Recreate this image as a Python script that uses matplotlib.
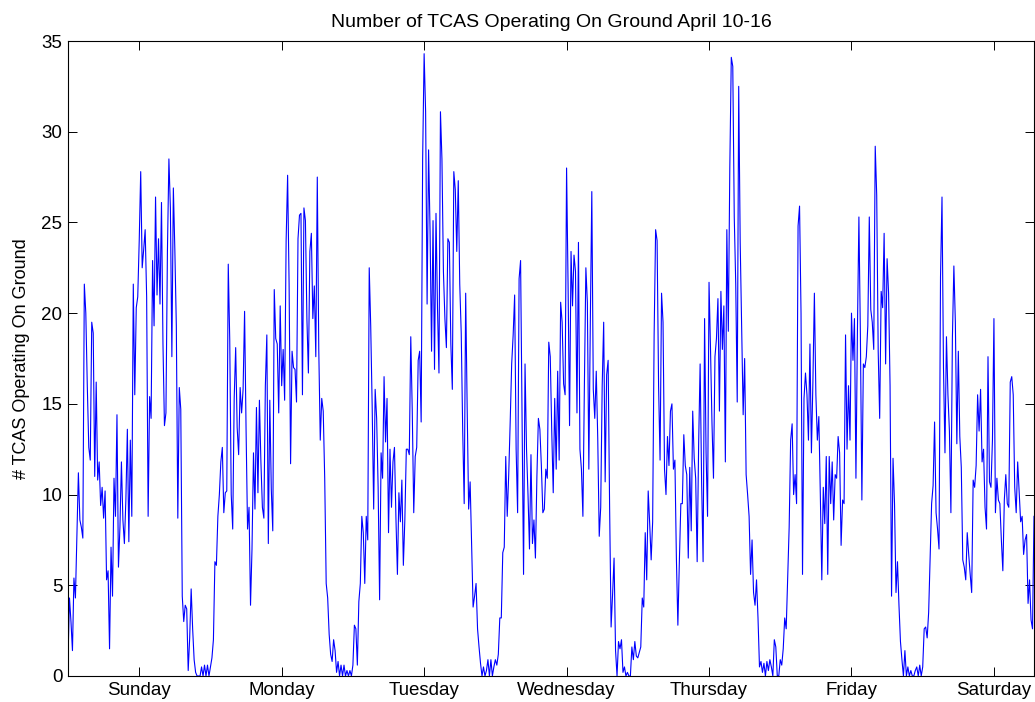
import numpy as np
import matplotlib
matplotlib.use("Agg")
import matplotlib.pyplot as plt

plt.rcParams['font.family'] = ['Liberation Sans', 'DejaVu Sans']

# number of TCAS on ground, one reading every 15 minutes, one list per day
sunday = [0.9, 4.3, 3.0, 1.4, 5.4, 4.3, 7.8, 11.2, 8.6, 8.2,
          7.6, 21.6, 20.0, 16.0, 12.6, 11.9, 19.5, 18.9, 11.0, 16.2,
          10.8, 11.8, 9.4, 10.4, 8.7, 10.2, 5.3, 5.8, 1.5, 7.1,
          4.4, 10.9, 8.8, 14.4, 6.0, 8.2, 11.8, 8.6, 7.3, 9.7,
          13.6, 7.4, 13.0, 8.8, 21.6, 15.5, 20.3, 20.9, 24.0, 27.8,
          22.5, 23.5, 24.6, 20.9, 8.8, 15.4, 14.2, 22.9, 19.3, 26.4,
          21.0, 24.1, 20.5, 26.1, 18.3, 13.8, 14.5, 23.4, 28.5, 25.8,
          17.6, 26.9, 23.5, 19.3, 8.7, 15.9, 14.7, 4.4, 3.0, 3.9,
          3.7, 0.3, 2.1, 4.8, 2.6, 0.9, 0.2, 0, 0, 0,
          0.5, 0, 0.6, 0, 0.6, 0]
monday = [0.5, 1.0, 2.0, 6.3, 6.1, 8.8, 10.0, 11.8, 12.6, 9.0,
          10.1, 10.2, 22.7, 18.5, 10.0, 8.1, 15.3, 18.1, 13.7, 12.2,
          15.9, 14.5, 15.8, 20.1, 13.6, 8.1, 9.3, 3.9, 7.0, 12.3,
          9.2, 14.8, 10.1, 15.2, 11.8, 9.3, 8.7, 16.0, 18.8, 7.3,
          15.2, 10.3, 8.0, 21.3, 18.6, 18.3, 14.5, 20.4, 16.0, 18.0,
          15.2, 24.0, 27.6, 21.6, 11.7, 17.9, 17.0, 16.9, 15.1, 24.1,
          25.4, 25.5, 15.5, 25.8, 25.1, 19.7, 16.7, 23.4, 24.4, 19.7,
          21.5, 17.6, 27.5, 18.0, 13.0, 15.3, 14.6, 10.9, 5.1, 4.3,
          2.3, 1.2, 0.8, 2.0, 1.4, 0.2, 0.8, 0, 0.6, 0,
          0.6, 0, 0.3, 0, 0.3, 0]
tuesday = [0.6, 2.8, 2.6, 0.6, 4.1, 5.1, 8.8, 7.9, 5.1, 8.8,
           7.5, 22.5, 19.3, 14.8, 9.2, 15.8, 14.2, 10.4, 4.2, 12.3,
           10.9, 16.5, 12.9, 15.3, 7.9, 12.5, 9.3, 11.8, 12.6, 8.7,
           5.6, 10.1, 8.5, 10.8, 6.1, 8.6, 12.5, 12.5, 12.2, 18.7,
           14.6, 9.0, 12.1, 12.6, 17.4, 17.9, 14.0, 28.5, 34.3, 31.1,
           20.5, 29.0, 24.5, 17.9, 25.1, 16.9, 25.5, 20.3, 16.7, 31.1,
           28.5, 22.3, 19.7, 18.1, 24.1, 23.9, 18.3, 15.8, 27.8, 26.8,
           23.4, 27.3, 21.6, 18.9, 13.5, 9.5, 21.1, 14.8, 9.2, 10.7,
           7.2, 3.8, 4.4, 5.1, 2.6, 1.6, 0.7, 0, 0.5, 0,
           0.3, 0.9, 0, 0.9, 0, 0.5]
wednesday = [0.9, 0.6, 1.2, 3.2, 3.2, 6.8, 7.1, 12.1, 8.8, 11.1,
             14.0, 17.2, 18.8, 21.0, 12.5, 9.0, 21.9, 22.9, 14.0, 5.6,
             17.2, 12.5, 10.0, 7.0, 12.2, 7.3, 8.6, 6.5, 11.0, 14.2,
             13.6, 11.6, 9.0, 9.2, 11.4, 10.9, 18.4, 17.6, 13.5, 10.1,
             15.3, 11.4, 16.8, 11.9, 20.6, 19.5, 16.1, 15.5, 28.0, 21.6,
             13.8, 23.4, 20.4, 23.2, 22.3, 14.5, 23.9, 12.5, 11.4, 8.8,
             16.0, 22.5, 20.6, 11.4, 19.5, 26.7, 15.8, 14.2, 16.8, 13.1,
             7.7, 9.3, 16.0, 19.5, 10.7, 16.6, 17.4, 9.3, 2.7, 4.5,
             6.5, 1.4, 0, 1.9, 1.5, 2.0, 0.2, 0.5, 0, 0.2,
             0, 0, 1.6, 0.9, 1.9, 1.1]
thursday = [1.0, 1.3, 1.6, 4.3, 3.8, 7.9, 5.3, 10.2, 8.4, 6.4,
            8.5, 18.8, 24.6, 24.0, 16.0, 11.9, 21.1, 19.5, 11.4, 10.0,
            13.2, 11.6, 14.6, 15.0, 11.4, 11.9, 6.5, 2.8, 6.3, 9.5,
            9.5, 13.3, 11.6, 11.1, 6.5, 11.5, 8.0, 14.6, 12.0, 10.9,
            6.3, 12.8, 17.2, 10.7, 6.3, 19.7, 12.3, 8.8, 21.7, 18.0,
            13.9, 10.9, 17.6, 18.6, 20.8, 14.6, 21.2, 18.0, 20.4, 11.8,
            24.6, 19.0, 28.0, 34.1, 33.6, 25.3, 21.6, 15.1, 32.5, 23.9,
            19.3, 14.4, 17.5, 11.1, 10.0, 8.8, 5.6, 7.5, 4.6, 3.9,
            5.3, 3.2, 0.5, 0.8, 0.2, 0.7, 0, 0.8, 0.3, 0.9,
            0.5, 0, 2.0, 1.6, 0, 0]
friday = [0.9, 0.6, 1.5, 3.2, 2.6, 5.3, 8.2, 13.0, 13.9, 10.0,
          11.1, 9.5, 24.8, 25.9, 20.0, 5.6, 15.3, 16.7, 15.5, 13.0,
          18.3, 12.3, 16.2, 21.1, 15.5, 13.0, 14.3, 10.0, 5.3, 10.4,
          8.4, 12.1, 5.6, 12.1, 9.5, 11.8, 8.6, 11.1, 10.9, 13.2,
          12.3, 7.2, 9.7, 9.5, 18.8, 12.5, 16.0, 13.0, 20.0, 17.4,
          19.7, 10.9, 19.0, 25.3, 18.8, 9.7, 17.2, 17.0, 17.6, 19.3,
          25.3, 20.2, 19.5, 18.0, 29.2, 26.5, 17.9, 14.2, 21.2, 20.3,
          24.4, 17.2, 23.0, 21.1, 16.0, 4.4, 12.0, 9.5, 4.6, 6.3,
          3.9, 1.9, 0.9, 0, 1.4, 0, 0.5, 0, 0.3, 0,
          0, 0.3, 0.5, 0, 0.6, 0]
saturday = [0.5, 2.6, 2.7, 2.1, 3.5, 6.5, 9.5, 10.5, 14.0, 9.0,
            8.1, 7.0, 22.0, 26.4, 17.0, 12.3, 18.7, 15.5, 13.5, 9.0,
            18.6, 22.6, 19.5, 12.8, 17.9, 13.2, 11.5, 6.4, 6.0, 5.3,
            7.9, 6.7, 5.6, 4.6, 10.8, 10.4, 11.6, 15.5, 13.5, 15.8,
            11.8, 12.5, 9.3, 8.1, 17.6, 10.7, 10.4, 13.0, 19.7, 9.0,
            10.9, 9.7, 9.5, 7.5, 5.8, 9.7, 11.1, 9.5, 9.3, 16.2,
            16.5, 15.5, 10.4, 9.0, 11.8, 10.2, 8.5, 8.8, 6.7, 7.5,
            7.8, 4.0, 5.3, 3.1, 2.6, 8.8]

day_names = ['Sunday', 'Monday', 'Tuesday', 'Wednesday', 'Thursday', 'Friday', 'Saturday']
day_ticks = [12, 36, 60, 84, 108, 132, 156]

counts = np.array(sunday + monday + tuesday + wednesday + thursday + friday + saturday)
hours = np.arange(len(counts)) * 0.25

fig = plt.figure(figsize=(10.35, 7.02), dpi=100)
ax = fig.add_axes([68 / 1035, 1 - 676 / 702, 966 / 1035, 635 / 702])
ax.plot(hours, counts, color='blue', linewidth=0.8)

ax.set_xlim(0, hours[-1])
ax.set_ylim(0, 35)
ax.set_xticks(day_ticks)
ax.set_xticklabels(day_names)
ax.set_yticks(range(0, 36, 5))
ax.tick_params(direction='in', top=True, right=True, length=6.5, width=0.7,
               labelsize=13.5, pad=4)
for s in ax.spines.values():
    s.set_linewidth(0.8)

ax.set_title('Number of TCAS Operating On Ground April 10-16', fontsize=14, pad=10)
ax.set_ylabel('# TCAS Operating On Ground', fontsize=13, labelpad=8)

fig.savefig('out.png', dpi=100)
